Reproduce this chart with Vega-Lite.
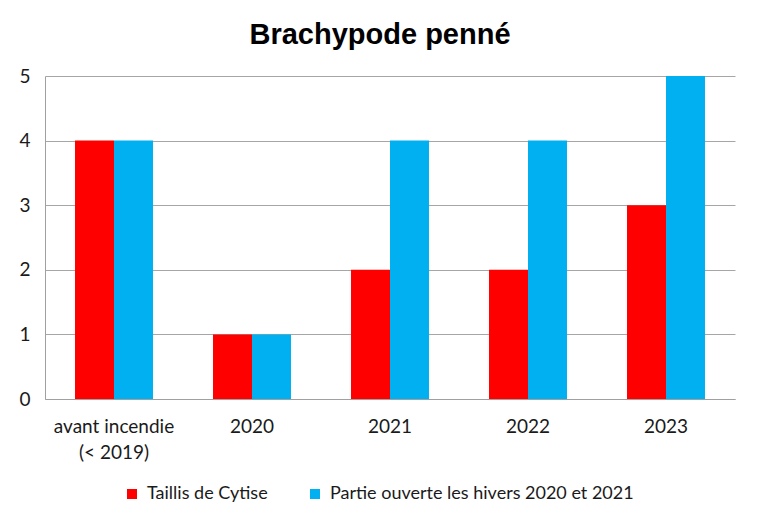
{
  "$schema": "https://vega.github.io/schema/vega-lite/v6.json",
  "width": 690,
  "height": 323,
  "padding": {"left": 18, "top": 21, "right": 23, "bottom": 10},
  "autosize": {"type": "pad"},
  "background": "white",
  "title": {
    "text": "Brachypode penné",
    "font": "Liberation Sans",
    "fontSize": 29,
    "fontWeight": "bold",
    "color": "#000000",
    "offset": 17,
    "dx": -10,
    "anchor": "middle"
  },
  "data": {
    "values": [
      {"cat": "avant incendie|(< 2019)", "serie": "Taillis de Cytise", "value": 4},
      {"cat": "avant incendie|(< 2019)", "serie": "Partie ouverte les hivers 2020 et 2021", "value": 4},
      {"cat": "2020", "serie": "Taillis de Cytise", "value": 1},
      {"cat": "2020", "serie": "Partie ouverte les hivers 2020 et 2021", "value": 1},
      {"cat": "2021", "serie": "Taillis de Cytise", "value": 2},
      {"cat": "2021", "serie": "Partie ouverte les hivers 2020 et 2021", "value": 4},
      {"cat": "2022", "serie": "Taillis de Cytise", "value": 2},
      {"cat": "2022", "serie": "Partie ouverte les hivers 2020 et 2021", "value": 4},
      {"cat": "2023", "serie": "Taillis de Cytise", "value": 3},
      {"cat": "2023", "serie": "Partie ouverte les hivers 2020 et 2021", "value": 5}
    ]
  },
  "mark": {"type": "bar"},
  "encoding": {
    "x": {
      "field": "cat",
      "type": "nominal",
      "sort": null,
      "scale": {"paddingInner": 0.435, "paddingOuter": 0.2175},
      "axis": {
        "title": null,
        "labelAngle": 0,
        "labelExpr": "split(datum.label, '|')",
        "labelFont": "Lato",
        "labelFontSize": 19,
        "labelColor": "#1a1a1a",
        "labelPadding": 18,
        "labelLineHeight": 26,
        "ticks": false,
        "domainColor": "#a0a0a0",
        "grid": false
      }
    },
    "xOffset": {
      "field": "serie",
      "type": "nominal",
      "sort": ["Taillis de Cytise", "Partie ouverte les hivers 2020 et 2021"],
      "scale": {"paddingInner": 0, "paddingOuter": 0}
    },
    "y": {
      "field": "value",
      "type": "quantitative",
      "scale": {"domain": [0, 5]},
      "axis": {
        "title": null,
        "values": [0, 1, 2, 3, 4, 5],
        "labelOverlap": false,
        "labelFont": "Lato",
        "labelFontSize": 19,
        "labelColor": "#1a1a1a",
        "labelPadding": 15,
        "ticks": false,
        "domainColor": "#a0a0a0",
        "gridColor": "#a6a6a6",
        "grid": true
      }
    },
    "color": {
      "field": "serie",
      "type": "nominal",
      "sort": ["Taillis de Cytise", "Partie ouverte les hivers 2020 et 2021"],
      "scale": {
        "domain": ["Taillis de Cytise", "Partie ouverte les hivers 2020 et 2021"],
        "range": ["#ff0000", "#00b0f0"]
      },
      "legend": {
        "title": null,
        "orient": "none",
        "legendX": 78,
        "legendY": 409,
        "padding": 0,
        "direction": "horizontal",
        "symbolType": "square",
        "symbolSize": 100,
        "symbolStrokeWidth": 0,
        "labelOffset": 6,
        "labelFont": "Lato",
        "labelFontSize": 18,
        "labelColor": "#1a1a1a",
        "columnPadding": 38,
        "labelLimit": 400
      }
    }
  },
  "config": {
    "view": {"stroke": null},
    "legend": {"symbolOpacity": 1}
  }
}
